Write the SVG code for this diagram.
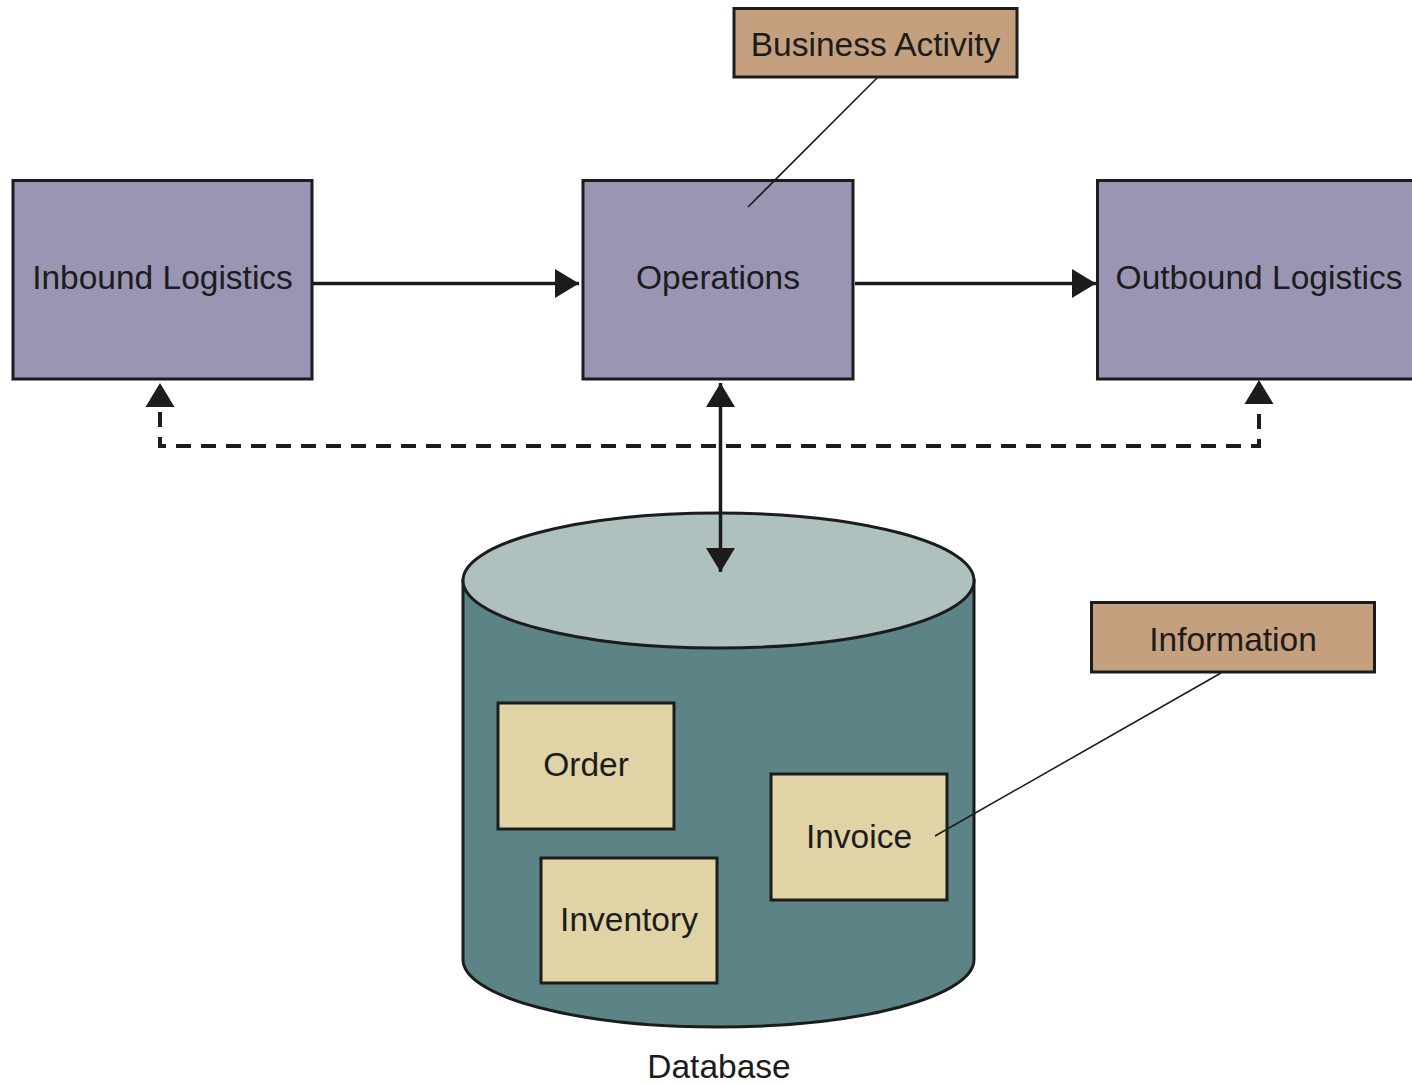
<svg xmlns="http://www.w3.org/2000/svg" width="1412" height="1085" viewBox="0 0 1412 1085">
<style>
.proc{fill:#9A95B3;stroke:#1c1c1c;stroke-width:3}
.note{fill:#C4A07E;stroke:#1c1c1c;stroke-width:3}
.rec{fill:#E0D3A5;stroke:#1c1c1c;stroke-width:3}
.t{font-family:"Liberation Sans",Arial,Helvetica,sans-serif;font-size:33.5px;fill:#1c1c1c;text-anchor:middle}
.arr{stroke:#1c1c1c;stroke-width:3.5;fill:none}
.dash{stroke:#1c1c1c;stroke-width:4;fill:none;stroke-dasharray:15 10}
.thin{stroke:#1c1c1c;stroke-width:1.6;fill:none}
.head{fill:#1c1c1c}
</style>
<defs>
<marker id="ah" markerUnits="userSpaceOnUse" markerWidth="25" markerHeight="30" refX="24" refY="14.5" orient="auto-start-reverse" viewBox="0 0 25 30">
<path d="M0,0 L24,14.5 L0,29 z" fill="#1c1c1c"/>
</marker>
</defs>

<g id="database">
<path d="M463,580.5 V959.5 A255.5,67.5 0 0 0 974,959.5 V580.5 Z" fill="#5C8385" stroke="#1c1c1c" stroke-width="3"/>
<ellipse cx="718.5" cy="580.5" rx="255.5" ry="67.5" fill="#AFC1BF" stroke="#1c1c1c" stroke-width="3"/>
<text class="t" x="719" y="1078">Database</text>
</g>

<g id="order">
<rect class="rec" x="498" y="703" width="176" height="126"/>
<text class="t" x="586" y="776">Order</text>
</g>
<g id="inventory">
<rect class="rec" x="541" y="858" width="176" height="125"/>
<text class="t" x="629" y="931">Inventory</text>
</g>
<g id="invoice">
<rect class="rec" x="771" y="774" width="176" height="126"/>
<text class="t" x="859" y="848">Invoice</text>
</g>

<g id="inbound">
<rect class="proc" x="13" y="180.5" width="299" height="198.5"/>
<text class="t" x="162.5" y="289">Inbound Logistics</text>
</g>
<g id="operations">
<rect class="proc" x="583" y="180.5" width="270" height="198.5"/>
<text class="t" x="718" y="289">Operations</text>
</g>
<g id="outbound">
<rect class="proc" x="1097.5" y="180.5" width="318" height="198.5"/>
<text class="t" x="1259" y="289">Outbound Logistics</text>
</g>

<g id="business-activity">
<rect class="note" x="734" y="8.5" width="283" height="68.5"/>
<text class="t" x="875.5" y="56">Business Activity</text>
</g>
<g id="information">
<rect class="note" x="1091.5" y="602.5" width="283" height="69.5"/>
<text class="t" x="1233" y="651">Information</text>
</g>

<g id="connectors">
<line class="arr" x1="313" y1="283.5" x2="579" y2="283.5" marker-end="url(#ah)"/>
<line class="arr" x1="855" y1="283.5" x2="1096" y2="283.5" marker-end="url(#ah)"/>
<path class="dash" d="M160,412 V446 H1259 V409"/>
<polygon class="head" points="160,383 145.5,407 174.5,407"/>
<polygon class="head" points="1259,380 1244.5,404 1273.5,404"/>
<line class="arr" x1="720.5" y1="383" x2="720.5" y2="572" marker-start="url(#ah)" marker-end="url(#ah)"/>
<line class="thin" x1="877" y1="78" x2="748" y2="207"/>
<line class="thin" x1="1221" y1="673" x2="935" y2="836"/>
</g>
</svg>
